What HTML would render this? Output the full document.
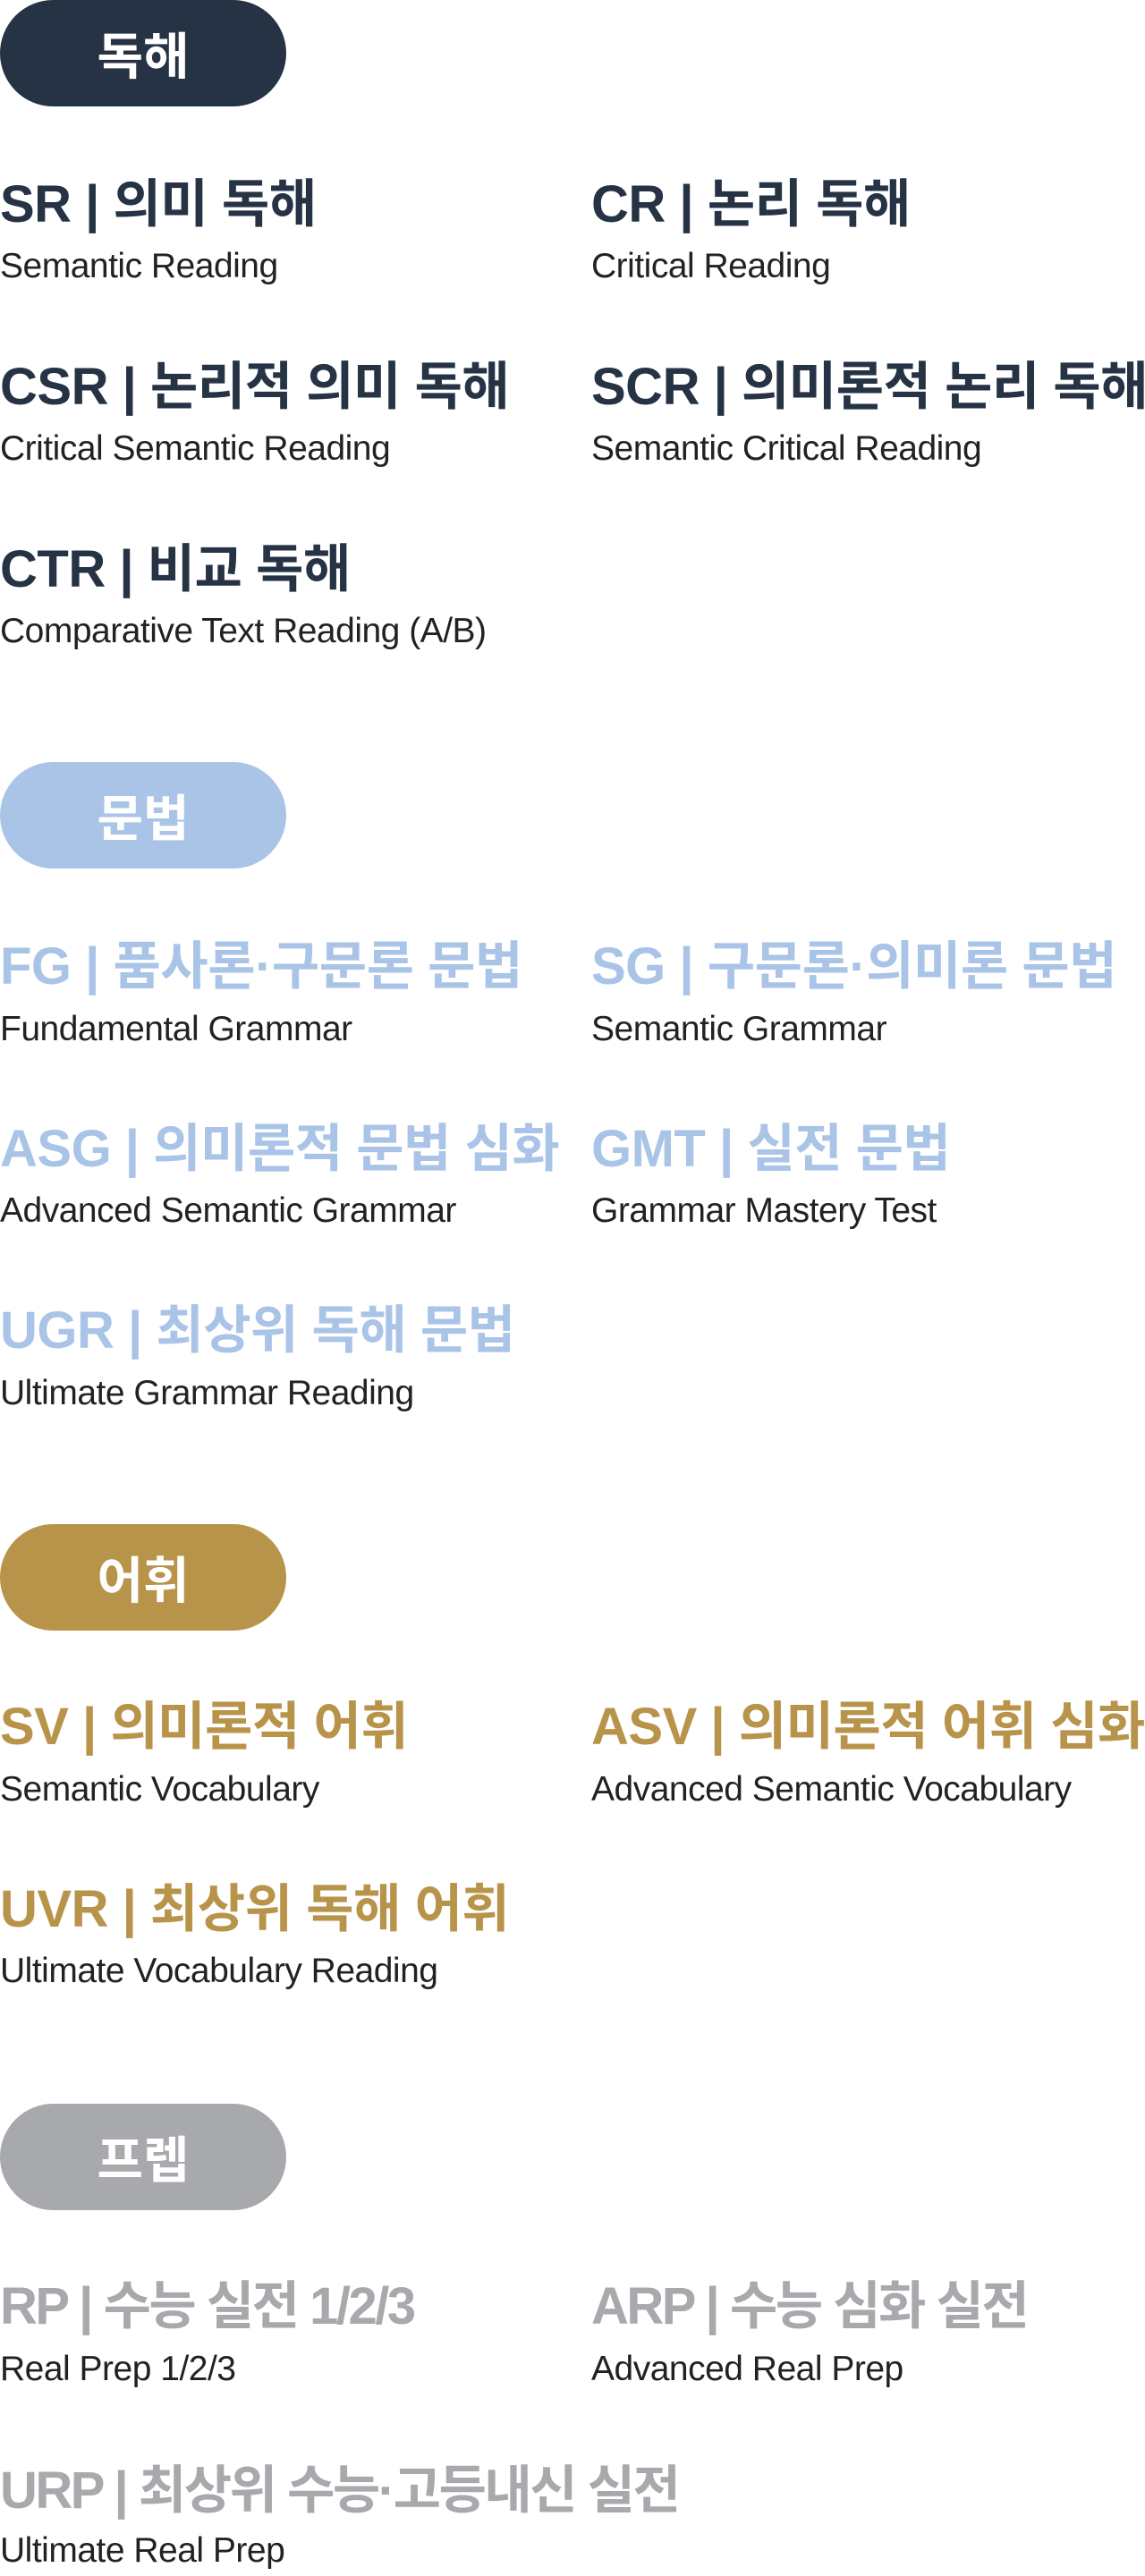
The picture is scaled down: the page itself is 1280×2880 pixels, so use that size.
<!DOCTYPE html>
<html><head><meta charset="utf-8"><style>
body{margin:0;width:1280px;height:2880px;background:#fff;position:relative;overflow:hidden;font-family:"Liberation Sans","Noto Sans CJK KR",sans-serif}
.p{position:absolute;left:0;width:320px;height:119px;border-radius:60px;color:#fff;font-weight:bold;font-size:56px;line-height:119px;text-align:center;font-family:"Noto Sans CJK KR",sans-serif}
.t{position:absolute;white-space:nowrap;font-weight:bold;font-size:58px;line-height:70px;letter-spacing:-0.5px;font-family:"Liberation Sans","Noto Sans CJK KR",sans-serif;margin-top:3px}
.s{position:absolute;white-space:nowrap;font-size:39px;line-height:44px;color:#222;letter-spacing:-0.5px;margin-top:1px}
.a{color:#263345}.b{color:#a9c4e7}.c{color:#b8934a}.d{color:#a7a9ac;letter-spacing:-2.5px}
</style></head><body>
<div class="p" style="top:0;background:#263345">독해</div>
<div class="t a" style="left:0;top:191px">SR | 의미 독해</div><div class="s" style="left:0;top:275px">Semantic Reading</div>
<div class="t a" style="left:661px;top:191px">CR | 논리 독해</div><div class="s" style="left:661px;top:275px">Critical Reading</div>
<div class="t a" style="left:0;top:395px">CSR | 논리적 의미 독해</div><div class="s" style="left:0;top:479px">Critical Semantic Reading</div>
<div class="t a" style="left:661px;top:395px">SCR | 의미론적 논리 독해</div><div class="s" style="left:661px;top:479px">Semantic Critical Reading</div>
<div class="t a" style="left:0;top:599px">CTR | 비교 독해</div><div class="s" style="left:0;top:683px">Comparative Text Reading (A/B)</div>

<div class="p" style="top:852px;background:#a9c4e7">문법</div>
<div class="t b" style="left:0;top:1043px">FG | 품사론·구문론 문법</div><div class="s" style="left:0;top:1128px">Fundamental Grammar</div>
<div class="t b" style="left:661px;top:1043px">SG | 구문론·의미론 문법</div><div class="s" style="left:661px;top:1128px">Semantic Grammar</div>
<div class="t b" style="left:0;top:1247px">ASG | 의미론적 문법 심화</div><div class="s" style="left:0;top:1331px">Advanced Semantic Grammar</div>
<div class="t b" style="left:661px;top:1247px">GMT | 실전 문법</div><div class="s" style="left:661px;top:1331px">Grammar Mastery Test</div>
<div class="t b" style="left:0;top:1450px">UGR | 최상위 독해 문법</div><div class="s" style="left:0;top:1535px">Ultimate Grammar Reading</div>

<div class="p" style="top:1704px;background:#b8934a">어휘</div>
<div class="t c" style="left:0;top:1893px">SV | 의미론적 어휘</div><div class="s" style="left:0;top:1978px">Semantic Vocabulary</div>
<div class="t c" style="left:661px;top:1893px">ASV | 의미론적 어휘 심화</div><div class="s" style="left:661px;top:1978px">Advanced Semantic Vocabulary</div>
<div class="t c" style="left:0;top:2097px">UVR | 최상위 독해 어휘</div><div class="s" style="left:0;top:2181px">Ultimate Vocabulary Reading</div>

<div class="p" style="top:2352px;background:#a7a9ac">프렙</div>
<div class="t d" style="left:0;top:2541px">RP | 수능 실전 1/2/3</div><div class="s" style="left:0;top:2626px">Real Prep 1/2/3</div>
<div class="t d" style="left:661px;top:2541px">ARP | 수능 심화 실전</div><div class="s" style="left:661px;top:2626px">Advanced Real Prep</div>
<div class="t d" style="left:0;top:2747px">URP | 최상위 수능·고등내신 실전</div><div class="s" style="left:0;top:2829px">Ultimate Real Prep</div>
</body></html>
